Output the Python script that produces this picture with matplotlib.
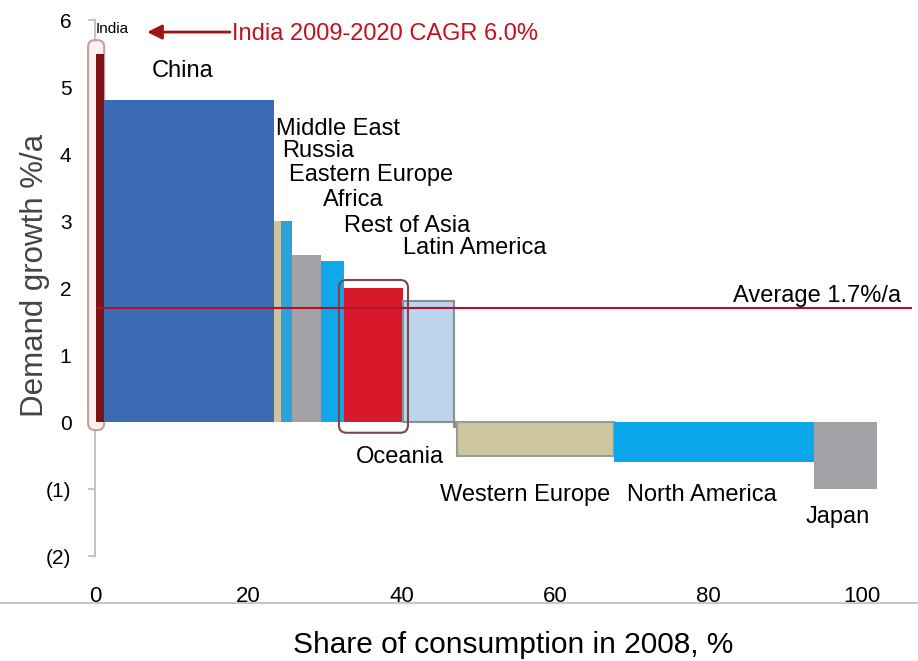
import matplotlib
matplotlib.use("Agg")
import matplotlib.pyplot as plt
import numpy as np
from matplotlib.patches import FancyBboxPatch
from matplotlib.lines import Line2D

plt.rcParams['font.family'] = ['Liberation Sans', 'DejaVu Sans']

# Regions, share of 2008 consumption (bar width, %) and demand growth (%/a)
regions = ['India', 'China', 'Middle East', 'Russia', 'Eastern Europe', 'Africa',
           'Rest of Asia', 'Latin America', 'Oceania', 'Western Europe',
           'North America', 'Japan']
shares = [1.1, 22.1, 0.9, 1.5, 3.8, 3.0, 7.6, 6.7, 0.4, 20.4, 26.1, 8.3]
growth = [5.5, 4.8, 3.0, 3.0, 2.5, 2.4, 2.0, 1.8, -0.08, -0.5, -0.6, -1.0]
start = 0.1
average = 1.7

colors = ['#7f1214', '#3b6bb3', '#cdc4a2', '#2aa2da', '#a2a2a6', '#12a7ea',
          '#d8182b', '#bcd5ec', '#8e8e90', '#ccc59e', '#0ba6ec', '#a2a2a6']
edges = ['none', 'none', 'none', 'none', 'none', 'none',
         'none', '#8a9096', '#8e8e90', '#9a9a98', 'none', 'none']

# label anchors (x in %, y in %/a), left aligned
label_pos = {
    'China': (7.4, 5.24),
    'Middle East': (23.6, 4.38),
    'Russia': (24.4, 4.04),
    'Eastern Europe': (25.3, 3.68),
    'Africa': (29.7, 3.31),
    'Rest of Asia': (32.4, 2.92),
    'Latin America': (40.1, 2.59),
    'Oceania': (34.0, -0.52),
    'Western Europe': (45.0, -1.09),
    'North America': (69.4, -1.09),
    'Japan': (92.6, -1.42),
}

lefts = start + np.concatenate([[0], np.cumsum(shares)[:-1]])

fig = plt.figure(figsize=(9.18, 6.61), dpi=100)
ax = fig.add_axes([90 / 918, 1 - 579.5 / 661, 822 / 918, 572.9 / 661])

ax.bar(lefts, growth, width=shares, align='edge', color=colors,
       edgecolor=edges, linewidth=1.5, zorder=3)

# highlight boxes round India and Rest of Asia
asp = (1 / 67.0) / (1 / 7.67)
ax.add_patch(FancyBboxPatch((-0.9, -0.12), 2.1, 5.82,
                            boxstyle='round,pad=0,rounding_size=0.9',
                            mutation_aspect=asp, facecolor='#fdf0f0',
                            edgecolor='#c8a0a0', linewidth=1.5,
                            clip_on=False, zorder=2))
ax.add_patch(FancyBboxPatch((31.8, -0.16), 9.0, 2.28,
                            boxstyle='round,pad=0,rounding_size=1.0',
                            mutation_aspect=asp, facecolor='none',
                            edgecolor='#7a4848', linewidth=1.5, zorder=4))

ax.axhline(average, xmin=0.01, xmax=1.0, color='#b3122e', lw=1.5, zorder=5)
ax.text(83.2, average + 0.18, 'Average 1.7%/a', fontsize=17, va='center',
        ha='left', zorder=6)

for name, (x, y) in label_pos.items():
    ax.text(x, y, name, fontsize=17, va='center', ha='left', zorder=6)

ax.text(0.1, 5.87, 'India', fontsize=11, va='center', ha='left', zorder=6)
ax.annotate('', xy=(6.8, 5.82), xytext=(17.6, 5.82),
            arrowprops=dict(arrowstyle='-|>', color='#a01418', lw=2,
                            mutation_scale=22, shrinkA=0, shrinkB=0))
ax.text(17.9, 5.79, 'India 2009-2020 CAGR 6.0%', fontsize=17, color='#c4101c',
        va='center', ha='left')

ax.set_xlim(-0.65, 106.5)
ax.set_ylim(-2.35, 6.2)

ax.set_yticks(np.arange(-2, 7))
ax.set_yticklabels(['(2)', '(1)', '0', '1', '2', '3', '4', '5', '6'])
ax.set_xticks([0, 20, 40, 60, 80, 100])
ax.tick_params(axis='y', direction='out', length=5, width=1.2, color='#bdbdbd',
               pad=12, labelsize=15)
ax.tick_params(axis='x', length=0, pad=5, labelsize=16)
for lbl in ax.get_xticklabels():
    lbl.set_family(['Liberation Sans Narrow', 'Liberation Sans'])

for side in ['top', 'right', 'bottom']:
    ax.spines[side].set_visible(False)
ax.spines['left'].set_position(('data', 0))
ax.spines['left'].set_bounds(-2, 6)
ax.spines['left'].set_color('#c4c4c4')
ax.spines['left'].set_linewidth(1.5)
ax.spines['left'].set_zorder(1)

fig.text(35 / 918, 1 - 275 / 661, 'Demand growth %/a', fontsize=22.5,
         color='#444444', rotation=90, ha='center', va='center')
fig.text(513 / 918, 1 - 645 / 661, 'Share of consumption in 2008, %',
         fontsize=21.5, ha='center', va='center')

fig.add_artist(Line2D([0, 1], [1 - 603 / 661] * 2, transform=fig.transFigure,
                      color='#c8c8c8', lw=1.5))

fig.savefig('out.png', dpi=100)
